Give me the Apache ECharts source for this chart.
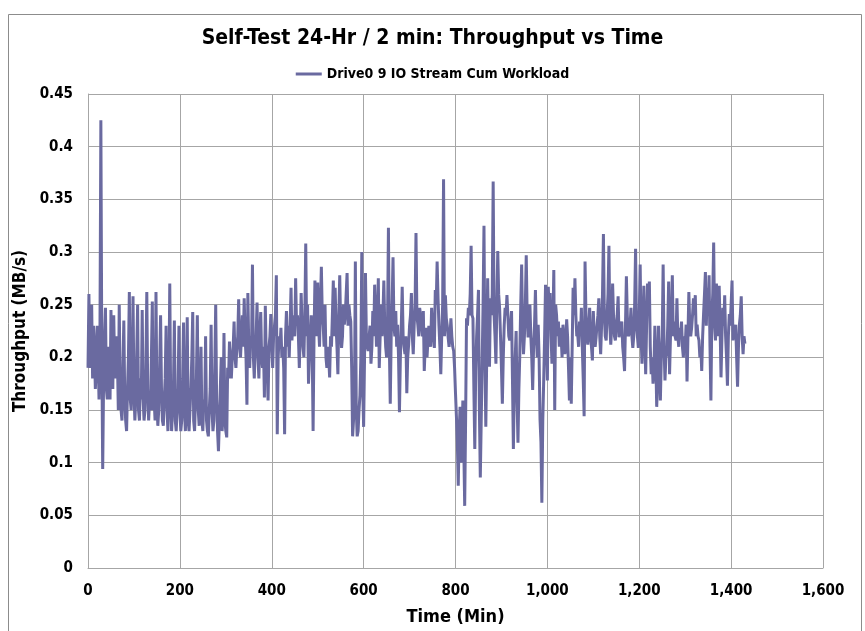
<!DOCTYPE html>
<html>
<head>
<meta charset="utf-8">
<script src="https://cdn.jsdelivr.net/npm/echarts@6/dist/echarts.min.js"></script>
<style>
  html, body { margin: 0; padding: 0; background: #fff; }
  #chart { width: 865px; height: 631px; }
</style>
</head>
<body>
<div id="chart"></div>
<script>
// sample every 2 minutes, starting at 0
const stepMin = 2;
const seriesName = 'Drive0 9 IO Stream Cum Workload';
const xTicks = [0, 200, 400, 600, 800, 1000, 1200, 1400, 1600];
const yTicks = [0, 0.05, 0.1, 0.15, 0.2, 0.25, 0.3, 0.35, 0.4, 0.45];

// throughput (MB/s)
const throughput = [
  0.19, 0.26, 0.19, 0.20, 0.25, 0.18, 0.23, 0.21, 0.17, 0.19,
  0.23, 0.20, 0.16, 0.22, 0.425, 0.21, 0.094, 0.18, 0.22, 0.247,
  0.17, 0.16, 0.21, 0.19, 0.16, 0.245, 0.18, 0.17, 0.24, 0.19,
  0.18, 0.22, 0.20, 0.15, 0.25, 0.17, 0.15, 0.14, 0.19, 0.235,
  0.16, 0.14, 0.13, 0.17, 0.20, 0.262, 0.16, 0.15, 0.18, 0.258,
  0.17, 0.14, 0.16, 0.20, 0.25, 0.15, 0.14, 0.18, 0.16, 0.245,
  0.16, 0.14, 0.15, 0.19, 0.262, 0.17, 0.14, 0.16, 0.15, 0.20,
  0.253, 0.15, 0.16, 0.14, 0.262, 0.16, 0.135, 0.15, 0.19, 0.24,
  0.17, 0.14, 0.135, 0.16, 0.18, 0.23, 0.15, 0.13, 0.17, 0.27,
  0.16, 0.13, 0.15, 0.17, 0.235, 0.14, 0.13, 0.15, 0.17, 0.23,
  0.15, 0.13, 0.14, 0.18, 0.233, 0.15, 0.13, 0.16, 0.238, 0.14,
  0.13, 0.15, 0.17, 0.20, 0.243, 0.14, 0.13, 0.16, 0.18, 0.24,
  0.15, 0.135, 0.17, 0.21, 0.14, 0.13, 0.16, 0.15, 0.22, 0.14,
  0.13, 0.125, 0.15, 0.17, 0.231, 0.15, 0.13, 0.14, 0.19, 0.25,
  0.16, 0.13, 0.111, 0.14, 0.17, 0.20, 0.13, 0.15, 0.223, 0.14,
  0.13, 0.124, 0.19, 0.18, 0.215, 0.19, 0.18, 0.20, 0.21, 0.234,
  0.20, 0.19, 0.21, 0.22, 0.255, 0.21, 0.20, 0.22, 0.24, 0.21,
  0.256, 0.22, 0.20, 0.155, 0.261, 0.21, 0.19, 0.22, 0.21, 0.288,
  0.20, 0.18, 0.21, 0.22, 0.252, 0.20, 0.18, 0.22, 0.243, 0.20,
  0.19, 0.21, 0.162, 0.249, 0.20, 0.19, 0.159, 0.21, 0.22, 0.241,
  0.21, 0.19, 0.22, 0.23, 0.24, 0.278, 0.127, 0.20, 0.22, 0.21,
  0.228, 0.20, 0.21, 0.19, 0.127, 0.22, 0.244, 0.21, 0.23, 0.20,
  0.23, 0.266, 0.216, 0.24, 0.23, 0.22, 0.275, 0.23, 0.24, 0.22,
  0.19, 0.22, 0.261, 0.23, 0.21, 0.20, 0.24, 0.308, 0.22, 0.25,
  0.175, 0.20, 0.22, 0.24, 0.21, 0.13, 0.22, 0.273, 0.24, 0.22,
  0.271, 0.23, 0.21, 0.25, 0.286, 0.24, 0.23, 0.21, 0.25, 0.20,
  0.19, 0.21, 0.20, 0.181, 0.22, 0.21, 0.24, 0.273, 0.22, 0.266,
  0.23, 0.21, 0.184, 0.24, 0.278, 0.23, 0.209, 0.22, 0.25, 0.231,
  0.24, 0.26, 0.28, 0.23, 0.25, 0.24, 0.234, 0.19, 0.125, 0.14,
  0.16, 0.291, 0.15, 0.125, 0.13, 0.15, 0.164, 0.20, 0.30, 0.17,
  0.134, 0.20, 0.28, 0.22, 0.21, 0.206, 0.22, 0.23, 0.194, 0.21,
  0.244, 0.22, 0.269, 0.24, 0.21, 0.23, 0.275, 0.19, 0.22, 0.25,
  0.22, 0.24, 0.273, 0.23, 0.21, 0.20, 0.23, 0.323, 0.21, 0.156,
  0.22, 0.25, 0.295, 0.23, 0.22, 0.244, 0.21, 0.231, 0.20, 0.148,
  0.20, 0.23, 0.267, 0.22, 0.21, 0.203, 0.22, 0.166, 0.20, 0.212,
  0.23, 0.24, 0.261, 0.22, 0.203, 0.23, 0.25, 0.318, 0.24, 0.231,
  0.22, 0.247, 0.24, 0.23, 0.22, 0.244, 0.187, 0.21, 0.228, 0.20,
  0.216, 0.23, 0.225, 0.21, 0.247, 0.23, 0.22, 0.209, 0.264, 0.25,
  0.291, 0.256, 0.23, 0.21, 0.184, 0.22, 0.25, 0.369, 0.22, 0.259,
  0.237, 0.23, 0.219, 0.21, 0.22, 0.237, 0.22, 0.21, 0.206, 0.19,
  0.166, 0.144, 0.12, 0.078, 0.13, 0.153, 0.10, 0.12, 0.159, 0.116,
  0.059, 0.14, 0.237, 0.23, 0.247, 0.24, 0.26, 0.306, 0.24, 0.237,
  0.17, 0.113, 0.187, 0.22, 0.24, 0.264, 0.15, 0.086, 0.14, 0.194,
  0.25, 0.325, 0.20, 0.134, 0.20, 0.275, 0.22, 0.191, 0.256, 0.24,
  0.26, 0.367, 0.24, 0.22, 0.194, 0.25, 0.301, 0.26, 0.247, 0.22,
  0.19, 0.156, 0.20, 0.23, 0.247, 0.24, 0.259, 0.24, 0.22, 0.216,
  0.23, 0.244, 0.18, 0.113, 0.17, 0.20, 0.225, 0.16, 0.119, 0.17,
  0.203, 0.25, 0.288, 0.23, 0.203, 0.22, 0.25, 0.297, 0.24, 0.219,
  0.23, 0.25, 0.22, 0.20, 0.169, 0.21, 0.23, 0.264, 0.22, 0.20,
  0.231, 0.20, 0.141, 0.12, 0.062, 0.14, 0.178, 0.22, 0.269, 0.22,
  0.178, 0.267, 0.24, 0.261, 0.22, 0.194, 0.23, 0.283, 0.15, 0.25,
  0.24, 0.22, 0.234, 0.21, 0.228, 0.22, 0.20, 0.231, 0.22, 0.203,
  0.21, 0.236, 0.22, 0.19, 0.159, 0.20, 0.156, 0.21, 0.266, 0.24,
  0.275, 0.24, 0.22, 0.222, 0.21, 0.234, 0.22, 0.247, 0.21, 0.18,
  0.144, 0.291, 0.24, 0.22, 0.212, 0.23, 0.247, 0.22, 0.21, 0.197,
  0.244, 0.22, 0.21, 0.219, 0.23, 0.24, 0.256, 0.22, 0.203, 0.23,
  0.26, 0.317, 0.24, 0.22, 0.216, 0.24, 0.26, 0.306, 0.23, 0.212,
  0.23, 0.27, 0.24, 0.22, 0.216, 0.23, 0.24, 0.258, 0.219, 0.22,
  0.23, 0.234, 0.21, 0.20, 0.187, 0.23, 0.277, 0.24, 0.22, 0.222,
  0.23, 0.247, 0.22, 0.209, 0.22, 0.25, 0.303, 0.23, 0.22, 0.209,
  0.24, 0.288, 0.22, 0.194, 0.23, 0.268, 0.22, 0.184, 0.23, 0.27,
  0.24, 0.272, 0.21, 0.184, 0.20, 0.175, 0.19, 0.23, 0.20, 0.153,
  0.18, 0.23, 0.19, 0.159, 0.20, 0.22, 0.288, 0.21, 0.178, 0.20,
  0.203, 0.23, 0.272, 0.184, 0.22, 0.24, 0.278, 0.22, 0.234, 0.22,
  0.216, 0.256, 0.22, 0.21, 0.228, 0.22, 0.234, 0.21, 0.20, 0.22,
  0.21, 0.231, 0.177, 0.22, 0.262, 0.23, 0.22, 0.228, 0.24, 0.256,
  0.24, 0.259, 0.22, 0.231, 0.22, 0.216, 0.20, 0.21, 0.187, 0.22,
  0.241, 0.26, 0.281, 0.23, 0.266, 0.24, 0.278, 0.21, 0.159, 0.24,
  0.26, 0.309, 0.23, 0.216, 0.27, 0.24, 0.22, 0.268, 0.23, 0.181,
  0.22, 0.247, 0.23, 0.259, 0.22, 0.20, 0.173, 0.22, 0.241, 0.23,
  0.25, 0.273, 0.216, 0.23, 0.22, 0.231, 0.20, 0.172, 0.21, 0.231,
  0.24, 0.258, 0.22, 0.203, 0.22, 0.213
];

const points = throughput.map((v, i) => [i * stepMin, v]);

const font = "'Liberation Sans Narrow', 'DejaVu Sans Condensed', sans-serif";
const gridColor = '#a6a6a6';

const chart = echarts.init(document.getElementById('chart'), null, { renderer: 'canvas' });

chart.setOption({
  backgroundColor: '#fff',
  animation: false,
  textStyle: { fontFamily: font, color: '#000' },
  title: {
    text: 'Self-Test 24-Hr / 2 min: Throughput vs Time',
    left: 'center',
    top: 23,
    textStyle: { fontFamily: font, fontSize: 21, fontWeight: 'bold', color: '#000' }
  },
  legend: {
    top: 62,
    left: 'center',
    icon: 'rect',
    itemWidth: 26,
    itemHeight: 3,
    itemGap: 4,
    textStyle: { fontFamily: font, fontSize: 14, fontWeight: 'bold', color: '#000' },
    data: [seriesName]
  },
  grid: { left: 88, right: 42, top: 94, bottom: 57, containLabel: false },
  xAxis: {
    type: 'value',
    min: xTicks[0],
    max: xTicks[xTicks.length - 1],
    interval: xTicks[1] - xTicks[0],
    name: 'Time (Min)',
    nameLocation: 'middle',
    nameGap: 40,
    nameTextStyle: { fontFamily: font, fontSize: 18, fontWeight: 'bold', color: '#000' },
    axisLine: { show: true, lineStyle: { color: gridColor, width: 1 } },
    axisTick: { show: false },
    axisLabel: {
      margin: 16,
      fontFamily: font, fontSize: 15, fontWeight: 'bold', color: '#000',
      formatter: v => v.toLocaleString('en-US')
    },
    splitLine: { show: true, lineStyle: { color: gridColor, width: 1 } }
  },
  yAxis: {
    type: 'value',
    min: yTicks[0],
    max: yTicks[yTicks.length - 1],
    interval: 0.05,
    name: 'Throughput (MB/s)',
    nameLocation: 'middle',
    nameGap: 53,
    nameTextStyle: { fontFamily: font, fontSize: 17, fontWeight: 'bold', color: '#000' },
    axisLine: { show: true, lineStyle: { color: gridColor, width: 1 } },
    axisTick: { show: false },
    axisLabel: {
      margin: 15,
      fontFamily: font, fontSize: 15, fontWeight: 'bold', color: '#000',
      formatter: v => String(+v.toFixed(2))
    },
    splitLine: { show: true, lineStyle: { color: gridColor, width: 1 } }
  },
  graphic: [{
    type: 'rect',
    shape: { x: 8.5, y: 14.5, width: 853, height: 640 },
    style: { fill: null, stroke: '#8c8c8c', lineWidth: 1 },
    silent: true,
    z: -1
  }],
  series: [{
    name: seriesName,
    type: 'line',
    data: points,
    showSymbol: false,
    symbol: 'none',
    lineStyle: { color: '#6a6aa0', width: 3 },
    itemStyle: { color: '#6a6aa0' }
  }]
});
</script>
</body>
</html>
